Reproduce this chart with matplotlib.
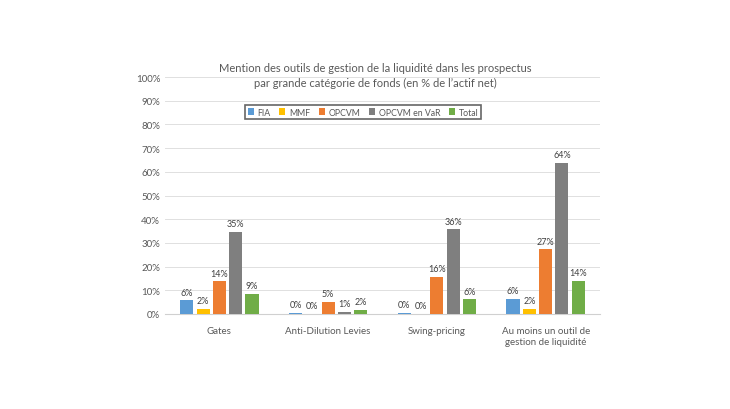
import numpy as np
import matplotlib
matplotlib.use("Agg")
import matplotlib.pyplot as plt

plt.rcParams["font.family"] = ["Lato", "DejaVu Sans"]

categories = ["Gates", "Anti-Dilution Levies", "Swing-pricing",
              "Au moins un outil de\ngestion de liquidité"]
series = ["FIA", "MMF", "OPCVM", "OPCVM en VaR", "Total"]
fia = [5.8, 0.4, 0.4, 6.4]
mmf = [2.3, 0.0, 0.0, 2.3]
opcvm = [13.8, 5.2, 15.7, 27.3]
opcvm_var = [34.8, 1.0, 35.8, 63.7]
total = [8.6, 1.8, 6.2, 14.1]
labels = [["6%", "0%", "0%", "6%"],
          ["2%", "0%", "0%", "2%"],
          ["14%", "5%", "16%", "27%"],
          ["35%", "1%", "36%", "64%"],
          ["9%", "2%", "6%", "14%"]]
colors = ["#5B9BD5", "#FFC000", "#ED7D31", "#7F7F7F", "#70AD47"]

values = [fia, mmf, opcvm, opcvm_var, total]
txt = "#595959"

fig = plt.figure(figsize=(7.3, 4.1), dpi=100)
ax = fig.add_axes([165 / 730, 1 - 315 / 410, 435 / 730, 237 / 410])

x = np.arange(len(categories))
w = 0.15
for i, (name, vals) in enumerate(zip(series, values)):
    pos = x + (i - 2) * w
    ax.bar(pos, vals, width=w * 0.8, color=colors[i], label=name, zorder=3)
    for p, v, lab in zip(pos, vals, labels[i]):
        ax.text(p, v + 1.5, lab, ha="center", va="bottom", fontsize=6.5, color="#404040")

ax.set_xlim(-0.5, 3.5)
ax.set_ylim(0, 100)
ax.set_yticks(np.arange(0, 101, 10))
ax.set_yticklabels([f"{v}%" for v in range(0, 101, 10)])
ax.set_xticks(x)
ax.set_xticklabels(categories)
ax.tick_params(axis="both", length=0, labelsize=7, colors=txt)
ax.tick_params(axis="x", pad=9)
ax.grid(axis="y", color="#E0E0E0", linewidth=0.7, zorder=0)
for s in ["top", "right", "left"]:
    ax.spines[s].set_visible(False)
ax.spines["bottom"].set_color("#D0D0D0")

fig.text(375 / 730, 1 - 76 / 410,
         "Mention des outils de gestion de la liquidité dans les prospectus\n"
         "par grande catégorie de fonds (en % de l’actif net)",
         ha="center", va="center", fontsize=8, color=txt, linespacing=1.45)

leg = fig.legend(loc="center", bbox_to_anchor=(363 / 730, 1 - 113 / 410), ncol=5,
                 fontsize=6.3, frameon=True, fancybox=False, handlelength=0.7,
                 handleheight=0.7, handletextpad=0.4, columnspacing=1.0,
                 borderpad=0.3, labelcolor=txt)
leg.get_frame().set_edgecolor("#404040")
leg.get_frame().set_linewidth(1.2)

fig.savefig("out.png", dpi=100)
